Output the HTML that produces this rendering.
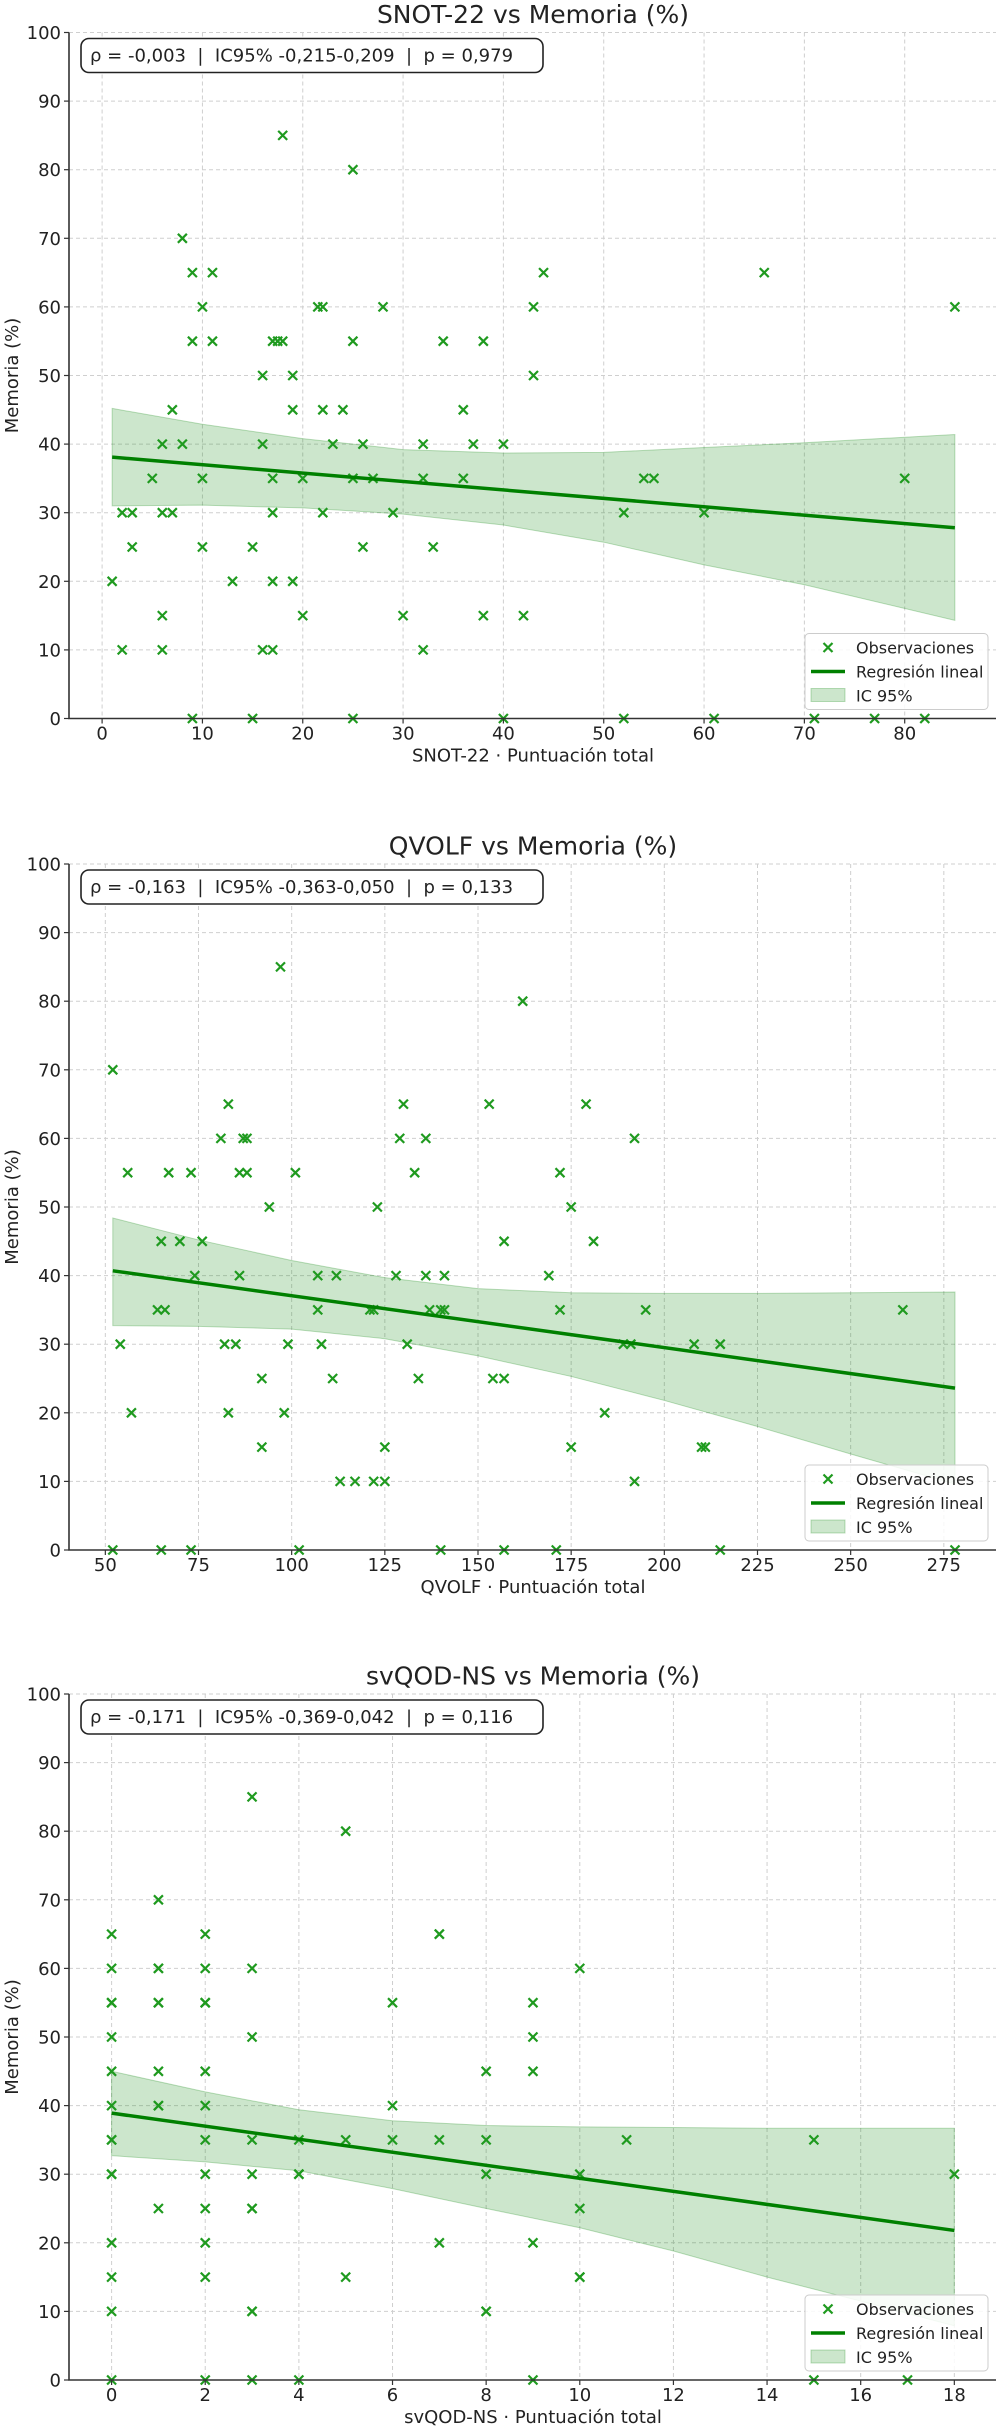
<!DOCTYPE html>
<html><head><meta charset="utf-8"><style>
html,body{margin:0;padding:0;background:#fff;}
svg{display:block;font-family:"DejaVu Sans","Liberation Sans",sans-serif;}
.pre{white-space:pre;}
</style></head><body>
<svg id="fig" width="1000" height="2430" viewBox="0 0 1000 2430" xmlns="http://www.w3.org/2000/svg"></svg>
<script>
// ---- Chart 1: SNOT-22 ----
const snotX = [18,25,8,9,11,44,66,10,21.5,22,28,43,85,9,11,17,17.5,18,25,34,38,16,19,43,7,19,22,24,36,6,8,16,23,26,32,37,40,5,10,17,20,25,27,32,36,54,55,80,2,3,6,7,17,22,29,52,60,3,10,15,26,33,1,13,17,19,6,20,30,38,42,2,6,16,17,32,9,15,25,40,52,61,71,77,82];
const snotY = [85,80,70,65,65,65,65,60,60,60,60,60,60,55,55,55,55,55,55,55,55,50,50,50,45,45,45,45,45,40,40,40,40,40,40,40,40,35,35,35,35,35,35,35,35,35,35,35,30,30,30,30,30,30,30,30,30,25,25,25,25,25,20,20,20,20,15,15,15,15,15,10,10,10,10,10,0,0,0,0,0,0,0,0,0];
const snotFit = [[1,38.1],[85,27.8]];
const snotBandX = [1,10,20,30,40,50,60,70,85];
const snotBandLo = [31.0,31.1,30.7,29.8,28.2,25.7,22.4,19.5,14.3];
const snotBandHi = [45.2,42.9,40.8,39.2,38.7,38.8,39.5,40.2,41.4];
const snotTicks = [0,10,20,30,40,50,60,70,80];

// ---- Chart 2: QVOLF ----
const qvX = [97,162,52,83,130,153,179,81,87,88,129,136,192,56,67,73,86,88,101,133,172,94,123,175,65,70,76,157,181,74,86,107,112,128,136,141,169,64,66,107,121,122,137,140,141,172,195,264,54,82,85,99,108,131,189,191,208,215,92,111,134,154,157,57,83,98,184,92,125,175,210,211,113,117,122,125,192,52,65,73,102,140,157,171,215,278];
const qvY = [85,80,70,65,65,65,65,60,60,60,60,60,60,55,55,55,55,55,55,55,55,50,50,50,45,45,45,45,45,40,40,40,40,40,40,40,40,35,35,35,35,35,35,35,35,35,35,35,30,30,30,30,30,30,30,30,30,30,25,25,25,25,25,20,20,20,20,15,15,15,15,15,10,10,10,10,10,0,0,0,0,0,0,0,0,0];
const qvFit = [[52,40.7],[278,23.6]];
const qvBandX = [52,75,100,125,150,175,200,225,250,278];
const qvBandLo = [32.7,32.6,32.2,30.8,28.3,25.3,21.8,18,14,9.6];
const qvBandHi = [48.4,45.2,42.2,39.7,38.1,37.5,37.4,37.4,37.5,37.6];
const qvTicks = [50,75,100,125,150,175,200,225,250,275];

// ---- Chart 3: svQOD-NS ----
const svX = [0,0,0,0,0,0,0,0,0,0,0,0,0,0,0, 1,1,1,1,1,1,1,1,1, 2,2,2,2,2,2,2,2,2,2,2,2, 3,3,3,3,3,3,3,3,3,3, 4,4,4,4, 5,5,5, 6,6,6, 7,7,7,7, 8,8,8,8,8, 9,9,9,9,9, 10,10,10,10,10, 11, 15,15, 17, 18];
const svY = [65,60,55,55,50,45,40,35,35,30,30,20,15,10,0, 70,60,60,55,55,45,40,40,25, 65,60,55,55,45,40,35,30,25,20,15,0, 85,60,50,35,30,25,25,10,10,0, 35,30,30,0, 80,35,15, 55,40,35, 65,65,35,20, 45,35,30,10,10, 55,50,45,20,0, 60,30,25,15,15, 35, 35,0, 0, 30];
const svFit = [[0,38.9],[18,21.8]];
const svBandX = [0,2,4,6,8,10,12,14,16,18];
const svBandLo = [32.7,31.8,30.5,27.9,25.0,22.2,18.8,15,11.5,7.9];
const svBandHi = [45,42,39.4,37.8,37.1,36.9,36.8,36.7,36.7,36.7];
const svTicks = [0,2,4,6,8,10,12,14,16,18];

const yTicks = [0,10,20,30,40,50,60,70,80,90,100];

const NS = "http://www.w3.org/2000/svg";
const fig = document.getElementById('fig');
function mk(tag, attrs, parent, txt){
  const e = document.createElementNS(NS, tag);
  for (const k in attrs) e.setAttribute(k, attrs[k]);
  if (txt !== undefined) e.textContent = txt;
  (parent||fig).appendChild(e);
  return e;
}

function drawChart(cfg){
  const L=69, R=996, T=cfg.top, B=cfg.top+686;
  const g = mk('g', {});
  
  
  const sx = v => L + (v - cfg.xmin) / (cfg.xmax - cfg.xmin) * (R - L);
  const sy = v => B - v / 100 * (B - T);
  const grid = mk('g', {stroke:'#cfcfcf','stroke-width':1,'stroke-dasharray':'4,3'}, g);
  
  
  cfg.ticks.forEach(t => mk('line', {x1:sx(t),x2:sx(t),y1:T,y2:B}, grid));
  yTicks.forEach(t => mk('line', {x1:L,x2:R,y1:sy(t),y2:sy(t)}, grid));
  let d = '';
  cfg.bx.forEach((x,i)=>{ d += (i?'L':'M') + sx(x) + ',' + sy(cfg.bhi[i]); });
  for (let i=cfg.bx.length-1;i>=0;i--) d += 'L' + sx(cfg.bx[i]) + ',' + sy(cfg.blo[i]);
  d += 'Z';
  const band = mk('path', {d:d, fill:'rgba(0,128,0,0.2)', stroke:'rgba(0,128,0,0.25)', 'stroke-width':1}, g);
  
  
  const pts = mk('g', {stroke:'#1f9a1f','stroke-width':2.2,'stroke-linecap':'butt'}, g);
  
  
  cfg.px.forEach((x,i)=>{
    const cx = sx(x), cy = sy(cfg.py[i]), s = 4.5;
    const p = mk('path', {d:`M${cx-s},${cy-s}L${cx+s},${cy+s}M${cx-s},${cy+s}L${cx+s},${cy-s}`}, pts);
    
    
  });
  const fl = mk('line', {x1:sx(cfg.fit[0][0]),y1:sy(cfg.fit[0][1]),x2:sx(cfg.fit[1][0]),y2:sy(cfg.fit[1][1]),stroke:'#008000','stroke-width':3.5}, g);
  
  
  const ax = mk('path', {d:`M${L},${T}L${L},${B}L${R},${B}`, fill:'none', stroke:'#333','stroke-width':1.6}, g);
  
  
  cfg.ticks.forEach(t => {
    mk('line', {x1:sx(t),x2:sx(t),y1:B,y2:B+5,stroke:'#333','stroke-width':1.2}, g);
    const tl = mk('text', {x:sx(t), y:B+21, 'text-anchor':'middle','font-size':18, fill:'#222'}, g, String(t));
    
    
  });
  yTicks.forEach(t => {
    mk('line', {x1:L-5,x2:L,y1:sy(t),y2:sy(t),stroke:'#333','stroke-width':1.2}, g);
    const tl = mk('text', {x:L-8, y:sy(t)+6.5, 'text-anchor':'end','font-size':18, fill:'#222'}, g, String(t));
    
    
  });
  const ti = mk('text', {x:533, y:T-9.5, 'text-anchor':'middle','font-size':25, fill:'#222'}, g, cfg.title);
  
  
  const xl = mk('text', {x:533, y:B+43, 'text-anchor':'middle','font-size':18, fill:'#222'}, g, cfg.xlabel);
  
  
  const yc = (T+B)/2;
  const yl = mk('text', {x:0, y:0, 'text-anchor':'middle','font-size':18, fill:'#222', transform:`translate(18,${yc}) rotate(-90)`}, g, 'Memoria (%)');
  
  
  const sb = mk('rect', {x:81, y:T+6, width:462, height:34, rx:8, fill:'#fff', stroke:'#222','stroke-width':1.6}, g);
  
  
  const st = mk('text', {x:90, y:T+29, 'font-size':18, fill:'#222', 'class':'pre'}, g, cfg.stats);
  
  
  const lg = mk('g', {}, g);
  
  
  const ly = B - 85;
  mk('rect', {x:805, y:ly, width:183, height:76, rx:4, fill:'rgba(255,255,255,0.85)', stroke:'#ccc','stroke-width':1}, lg);
  const mx=828, my=ly+14;
  mk('path', {d:`M${mx-4.5},${my-4.5}L${mx+4.5},${my+4.5}M${mx-4.5},${my+4.5}L${mx+4.5},${my-4.5}`, stroke:'#1f9a1f','stroke-width':2.2}, lg);
  mk('line', {x1:811,x2:845,y1:ly+38,y2:ly+38,stroke:'#008000','stroke-width':3.5}, lg);
  mk('rect', {x:811, y:ly+55, width:34, height:13, fill:'rgba(0,128,0,0.2)', stroke:'rgba(0,128,0,0.25)'}, lg);
  [['Observaciones',ly+20],['Regresión lineal',ly+44],['IC 95%',ly+68]].forEach(a=>{
    const e = mk('text', {x:856, y:a[1], 'font-size':16, fill:'#222'}, lg, a[0]);
    
    
  });
}

drawChart({key:'snot', top:32.5, xmin:-3.3, xmax:89.1, ticks:snotTicks, px:snotX, py:snotY, fit:snotFit, bx:snotBandX, blo:snotBandLo, bhi:snotBandHi,
  title:'SNOT-22 vs Memoria (%)', xlabel:'SNOT-22 · Puntuación total', stats:'ρ = -0,003  |  IC95% -0,215-0,209  |  p = 0,979'});
drawChart({key:'qvolf', top:864, xmin:40.25, xmax:289, ticks:qvTicks, px:qvX, py:qvY, fit:qvFit, bx:qvBandX, blo:qvBandLo, bhi:qvBandHi,
  title:'QVOLF vs Memoria (%)', xlabel:'QVOLF · Puntuación total', stats:'ρ = -0,163  |  IC95% -0,363-0,050  |  p = 0,133'});
drawChart({key:'svqod', top:1694, xmin:-0.91, xmax:18.89, ticks:svTicks, px:svX, py:svY, fit:svFit, bx:svBandX, blo:svBandLo, bhi:svBandHi,
  title:'svQOD-NS vs Memoria (%)', xlabel:'svQOD-NS · Puntuación total', stats:'ρ = -0,171  |  IC95% -0,369-0,042  |  p = 0,116'});
</script>
</body></html>
